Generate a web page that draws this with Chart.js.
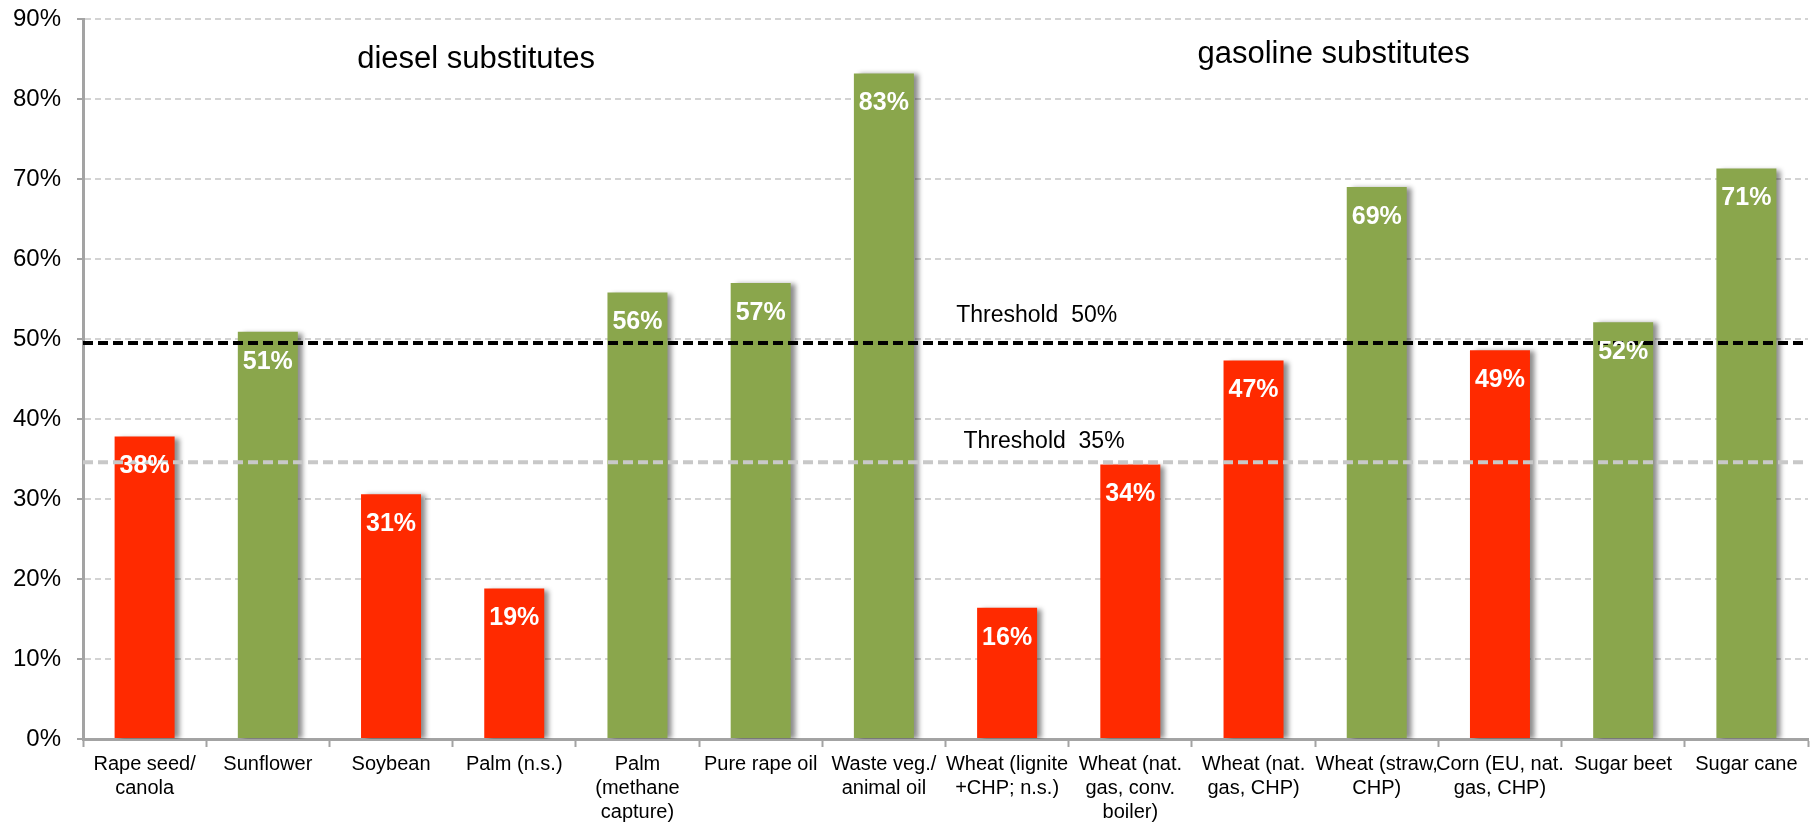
<!DOCTYPE html>
<html>
<head>
<meta charset="utf-8">
<script src="https://cdn.jsdelivr.net/npm/chart.js@4.4.1/dist/chart.umd.min.js"></script>
<style>
  html, body { margin: 0; padding: 0; background: #fff; }
  #wrap { width: 1810px; height: 829px; position: relative; }
</style>
</head>
<body>
<div id="wrap"><canvas id="chart"></canvas></div>
<script>
const categories = [
  ["Rape seed/", "canola"], "Sunflower", "Soybean", "Palm (n.s.)",
  ["Palm", "(methane", "capture)"], "Pure rape oil", ["Waste veg./", "animal oil"],
  ["Wheat (lignite", "+CHP; n.s.)"], ["Wheat (nat.", "gas, conv.", "boiler)"],
  ["Wheat (nat.", "gas, CHP)"], ["Wheat (straw,", "CHP)"], ["Corn (EU, nat.", "gas, CHP)"],
  "Sugar beet", "Sugar cane"
];
const savings = [37.8, 50.9, 30.6, 18.8, 55.8, 57.0, 83.2, 16.4, 34.3, 47.3, 69.0, 48.6, 52.1, 71.3];
const valueLabels = ["38%", "51%", "31%", "19%", "56%", "57%", "83%", "16%", "34%", "47%", "69%", "49%", "52%", "71%"];
const passes = [false, true, false, false, true, true, true, false, false, false, true, false, true, true];
const yTicks = [0, 10, 20, 30, 40, 50, 60, 70, 80, 90];

// threshold lines as drawn in the picture
const thresholds = [
  { value: 49.5, color: "#000000", text: "Threshold  50%", labelX: 7.24, labelY: 52.9 },
  { value: 34.6, color: "#c8c8c8", text: "Threshold  35%", labelX: 7.30, labelY: 37.2 }
];
const groupTitles = [
  { text: "diesel substitutes", x: 2.69, y: 84.9 },
  { text: "gasoline substitutes", x: 9.65, y: 85.6 }
];

const RED = "#ff2a00";
const GREEN = "#8aa64c";
const AXIS = "#a3a3a3";

const shadowPlugin = {
  id: "barShadow",
  beforeDatasetsDraw(chart) {
    const ctx = chart.ctx;
    ctx.save();
    ctx.shadowColor = "rgba(0,0,0,0.45)";
    ctx.shadowBlur = 5;
    ctx.shadowOffsetX = 5;
    ctx.shadowOffsetY = 1;
  },
  afterDatasetsDraw(chart) {
    chart.ctx.restore();
  }
};

const overlayPlugin = {
  id: "overlay",
  afterDatasetsDraw(chart) {
    const { ctx, chartArea, scales } = chart;
    const x = scales.x, y = scales.y;

    // threshold lines
    thresholds.forEach(t => {
      const py = y.getPixelForValue(t.value);
      ctx.save();
      ctx.strokeStyle = t.color;
      ctx.lineWidth = 4;
      ctx.setLineDash([10, 5]);
      ctx.beginPath();
      ctx.moveTo(chartArea.left, py);
      ctx.lineTo(chartArea.right, py);
      ctx.stroke();
      ctx.restore();
    });

    // value labels inside bars
    const meta = chart.getDatasetMeta(0);
    ctx.save();
    ctx.fillStyle = "#ffffff";
    ctx.font = "bold 25px 'Liberation Sans', Arial, sans-serif";
    ctx.textAlign = "center";
    ctx.textBaseline = "middle";
    meta.data.forEach((bar, i) => {
      ctx.fillText(valueLabels[i], bar.x, bar.y + 30);
    });
    ctx.restore();

    // text annotations
    ctx.save();
    ctx.fillStyle = "#000000";
    ctx.textAlign = "center";
    ctx.textBaseline = "middle";
    ctx.font = "23px 'Liberation Sans', Arial, sans-serif";
    thresholds.forEach(t => {
      ctx.fillText(t.text, x.getPixelForValue(t.labelX), y.getPixelForValue(t.labelY));
    });
    ctx.font = "31px 'Liberation Sans', Arial, sans-serif";
    groupTitles.forEach(g => {
      ctx.fillText(g.text, x.getPixelForValue(g.x), y.getPixelForValue(g.y));
    });
    ctx.restore();
  }
};

new Chart(document.getElementById("chart"), {
  type: "bar",
  data: {
    labels: categories,
    datasets: [{
      data: savings,
      backgroundColor: passes.map(p => (p ? GREEN : RED)),
      borderWidth: 0,
      barPercentage: 0.487,
      categoryPercentage: 1.0
    }]
  },
  options: {
    responsive: true,
    maintainAspectRatio: false,
    animation: false,
    layout: { padding: { top: 19, right: 2, left: 0, bottom: 0 } },
    plugins: {
      legend: { display: false },
      tooltip: { enabled: false }
    },
    scales: {
      x: {
        grid: {
          drawOnChartArea: false,
          drawTicks: true,
          tickLength: 8,
          tickColor: AXIS,
          tickWidth: 2,
          offset: true
        },
        border: { display: true, color: AXIS, width: 3 },
        ticks: {
          autoSkip: false,
          maxRotation: 0,
          minRotation: 0,
          padding: 5,
          color: "#000000",
          font: { family: "'Liberation Sans', Arial, sans-serif", size: 20, lineHeight: 1.2 }
        },
        afterFit(scale) { scale.height = 90; }
      },
      y: {
        min: 0,
        max: 90,
        afterBuildTicks(scale) { scale.ticks = yTicks.map(v => ({ value: v })); },
        grid: {
          color: "#d3d3d3",
          lineWidth: 2,
          tickColor: AXIS,
          tickLength: 6,
          tickWidth: 2,
          tickBorderDash: []
        },
        border: { display: true, color: AXIS, width: 3, dash: [6, 4] },
        ticks: {
          padding: 16,
          color: "#000000",
          callback: v => v + "%",
          font: { family: "'Liberation Sans', Arial, sans-serif", size: 24 }
        },
        afterFit(scale) {
          scale.width = 83;
          scale.paddingTop = 0;
          scale.paddingBottom = 0;
        }
      }
    }
  },
  plugins: [shadowPlugin, overlayPlugin]
});
</script>
</body>
</html>
